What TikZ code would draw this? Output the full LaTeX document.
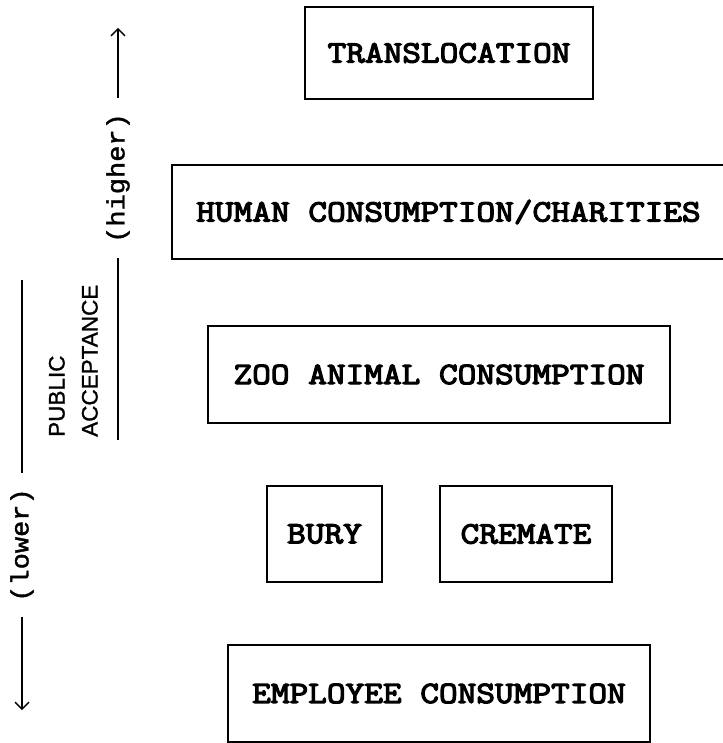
\documentclass[tikz,border=0pt]{standalone}
\usepackage{fontspec}
\usepackage{tikz}
\usetikzlibrary{arrows.meta}
\newfontfamily\boxfont[FakeStretch=1.17,FakeBold=4]{Latin Modern Mono}
\newfontfamily\tagfont[FakeStretch=1.08,FakeBold=1.5]{Liberation Mono}
\newfontfamily\labelfont[FakeBold=1.2]{Liberation Sans}

\begin{document}
\begin{tikzpicture}[
  x=1pt, y=-1pt,
  box/.style={draw, line width=1.8pt, inner sep=0pt, align=center, font=\boxfont\fontsize{31}{36}\selectfont},
  tag/.style={rotate=90, inner xsep=15pt, inner ysep=2pt, font=\tagfont\fontsize{25}{30}\selectfont},
  axis/.style={line width=1.4pt},
  tip/.style={axis, -{Straight Barb[length=7pt,width=14pt,line width=1.4pt]}}
]
\useasboundingbox (0,0) rectangle (722,743);

% Options, most accepted at the top
\node[box, minimum width=288, minimum height=92] (trans) at (449,53) {TRANSLOCATION};
\node[box, minimum width=553, minimum height=94] (human) at (448.5,212) {HUMAN CONSUMPTION/CHARITIES};
\node[box, minimum width=462, minimum height=97] (zoo) at (439,374.5) {ZOO ANIMAL CONSUMPTION};
\node[box, minimum width=115, minimum height=96] (bury) at (324.5,534) {BURY};
\node[box, minimum width=172, minimum height=96] (cremate) at (526,534) {CREMATE};
\node[box, minimum width=422, minimum height=97] (employee) at (439,693.5) {EMPLOYEE CONSUMPTION};

% Scale of public acceptance
\node[rotate=90, anchor=south west, inner sep=0pt, align=left,
      font=\labelfont\fontsize{22.5}{33}\selectfont] (accept) at (98,437) {PUBLIC\\ACCEPTANCE};

\node[tag] (lower) at (22,545) {(lower)};
\coordinate (lowtop) at (22,280);
\coordinate (lowtip) at (22,710);
\draw[axis] (lower) -- (lowtop);
\draw[tip] (lower) -- (lowtip);

\node[tag] (higher) at (118,178) {(higher)};
\coordinate (highbot) at (118,440);
\coordinate (hightip) at (118,28);
\draw[axis] (higher) -- (highbot);
\draw[tip] (higher) -- (hightip);
\end{tikzpicture}
\end{document}
